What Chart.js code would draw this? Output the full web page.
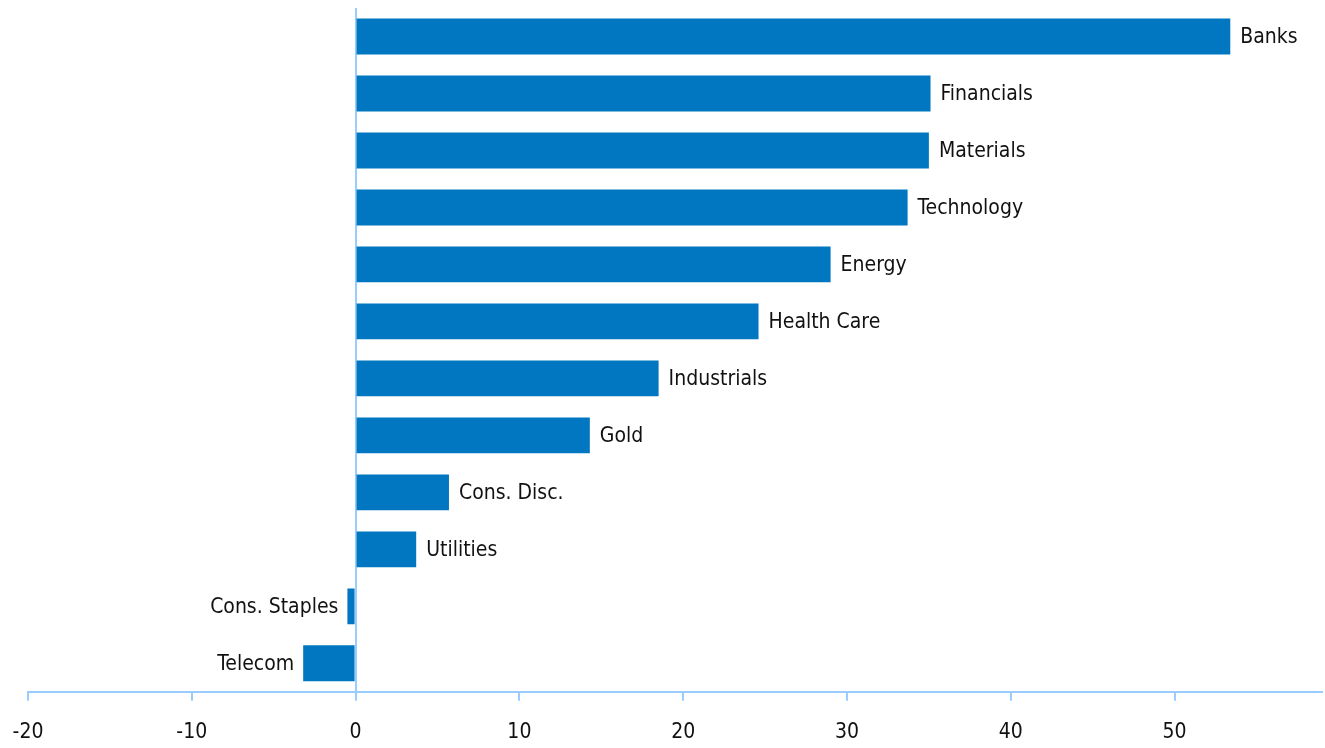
<!DOCTYPE html>
<html>
<head>
<meta charset="utf-8">
<script src="https://cdn.jsdelivr.net/npm/chart.js@4.4.0/dist/chart.umd.min.js"></script>
<style>
    html, body { margin: 0; padding: 0; background: #fff; }
    #wrap { width: 1325px; height: 748px; position: relative; }
</style>
</head>
<body>
<div id="wrap"><canvas id="chart"></canvas></div>
<script>
// Data
const sectors = ['Banks', 'Financials', 'Materials', 'Technology', 'Energy', 'Health Care',
    'Industrials', 'Gold', 'Cons. Disc.', 'Utilities', 'Cons. Staples', 'Telecom'];
const returns = [53.4, 35.1, 35.0, 33.7, 29.0, 24.6, 18.5, 14.3, 5.7, 3.7, -0.5, -3.2];
const xTicks = [-20, -10, 0, 10, 20, 30, 40, 50];

const barColor = '#0077c0';
const axisColor = '#99ccff';
const fontFamily = '"Liberation Sans Narrow", "DejaVu Sans Condensed", "Open Sans", sans-serif';

// Labels at bar ends
const barLabels = {
    id: 'barLabels',
    afterDatasetsDraw(chart) {
        const ctx = chart.ctx;
        const meta = chart.getDatasetMeta(0);
        ctx.save();
        ctx.font = '21px ' + fontFamily;
        ctx.fillStyle = '#111';
        ctx.textBaseline = 'middle';
        meta.data.forEach((bar, i) => {
            const v = returns[i];
            if (v >= 0) {
                ctx.textAlign = 'left';
                ctx.fillText(sectors[i], bar.x + 10, bar.y + 1);
            } else {
                ctx.textAlign = 'right';
                ctx.fillText(sectors[i], bar.x - 9, bar.y + 1);
            }
        });
        ctx.restore();
    }
};

new Chart(document.getElementById('chart'), {
    type: 'bar',
    data: {
        labels: sectors,
        datasets: [{
            data: returns,
            backgroundColor: barColor,
            borderWidth: 0,
            categoryPercentage: 1,
            barPercentage: 0.63
        }]
    },
    options: {
        indexAxis: 'y',
        responsive: true,
        maintainAspectRatio: false,
        animation: false,
        layout: { padding: { left: 28, right: 3, top: 8, bottom: -16 } },
        plugins: {
            legend: { display: false },
            tooltip: { enabled: false }
        },
        scales: {
            x: {
                min: -20,
                max: 59,
                afterBuildTicks: (scale) => {
                    scale.ticks = xTicks.map(v => ({ value: v }));
                },
                afterFit: (scale) => {
                    scale.paddingLeft = 0;
                    scale.paddingRight = 0;
                },
                border: { display: true, color: axisColor, width: 2 },
                grid: {
                    color: (c) => (c.tick && c.tick.value === 0) ? axisColor : 'rgba(0,0,0,0)',
                    lineWidth: 2,
                    tickColor: axisColor,
                    tickLength: 9,
                    drawTicks: true
                },
                ticks: {
                    color: '#111',
                    padding: 19,
                    maxRotation: 0,
                    font: { family: fontFamily, size: 21 }
                }
            },
            y: {
                display: false
            }
        }
    },
    plugins: [barLabels]
});
</script>
</body>
</html>
